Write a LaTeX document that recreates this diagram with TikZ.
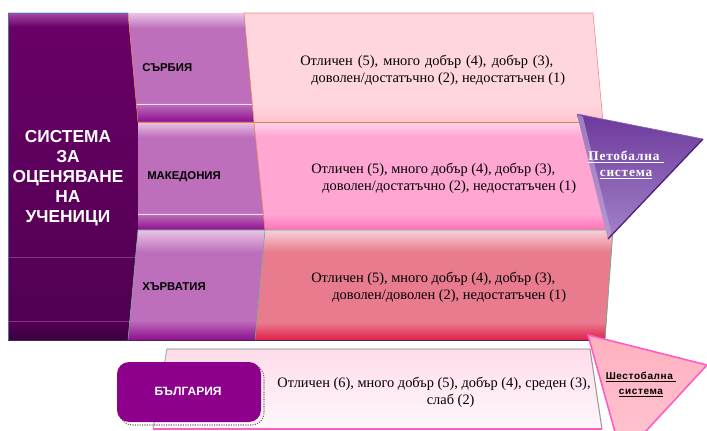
\documentclass[tikz,border=0pt]{standalone}
\usepackage{fontspec}
\setmainfont{Liberation Serif}
\newfontfamily\arial{Liberation Sans}
\newfontfamily\spacedserif[LetterSpace=6]{Liberation Serif}
\newfontfamily\spacedsans[LetterSpace=6]{Liberation Sans}
\definecolor{leftA}{HTML}{6A0068}
\definecolor{leftB}{HTML}{500050}
\definecolor{leftTop}{HTML}{A448A4}
\definecolor{leftBot}{HTML}{3A0040}
\definecolor{midp}{HTML}{BE6FBC}
\definecolor{midptop}{HTML}{E8C4E8}
\definecolor{midpbot}{HTML}{8E0E8E}
\definecolor{pinkA}{HTML}{FFD6DE}
\definecolor{pinkAbot}{HTML}{FFC4D0}
\definecolor{pinkB}{HTML}{FFA6D2}
\definecolor{pinkBtop}{HTML}{FFD4EA}
\definecolor{pinkBbot}{HTML}{FF70B8}
\definecolor{pinkC}{HTML}{E97B8E}
\definecolor{pinkCtop}{HTML}{F8D0D8}
\definecolor{pinkCbot}{HTML}{E0204A}
\definecolor{triP}{HTML}{6C3A9C}
\definecolor{triPlight}{HTML}{A482C8}
\definecolor{triPedge}{HTML}{4E2478}
\definecolor{triPink}{HTML}{FFB0BE}
\definecolor{triPinkB}{HTML}{FFC6D2}
\definecolor{triPinkEdge}{HTML}{FF5CC4}
\definecolor{bgbox}{HTML}{8C008C}
\definecolor{paleA}{HTML}{FFDCEA}
\definecolor{paleB}{HTML}{FFF7FB}
\definecolor{edgeOr}{HTML}{E08048}
\definecolor{edgeGr}{HTML}{60B088}
\definecolor{edgeBl}{HTML}{5070B0}
\definecolor{edgeRd}{HTML}{F08080}
\tikzset{
  gradetext/.style={font=\fontsize{10.8}{12.75}\selectfont, align=left, anchor=west, inner sep=0pt},
  countrytext/.style={font=\arial\bfseries\fontsize{8.5}{10}\selectfont, anchor=west, inner sep=0pt},
  titletext/.style={font=\arial\bfseries\fontsize{13}{15}\selectfont, align=center, text=white, inner sep=0pt},
}
\newcommand{\firstline}[1]{\makebox[#1][s]{Отличен (5), много добър (4), добър (3),}}
\begin{document}
\begin{tikzpicture}[x=0.75pt,y=-0.75pt]
\useasboundingbox (0,0) rectangle (707,431);
\fill[white] (0,0) rectangle (707,431);

% left dark box
\begin{scope}
\clip (8,13)--(128,13)--(138,122)--(138,230)--(128,340)--(8,340)--cycle;
\shade[top color=leftA, bottom color=leftB] (0,13) rectangle (150,340);
\shade[top color=leftTop, bottom color=leftA] (0,13) rectangle (150,27);
\shade[top color=leftB, bottom color=leftBot] (0,324) rectangle (150,340);
\draw[leftA!80!white, line width=0.4pt] (8,257)--(150,257) (8,321)--(150,321);
\end{scope}
\draw[edgeBl, line width=0.5pt] (128,13)--(8,13)--(8,340)--(128,340);

% Serbia purple
\begin{scope}
\clip (128,13)--(244,13)--(254,122)--(138,122)--cycle;
\fill[midp] (120,13) rectangle (260,122);
\shade[top color=midptop, bottom color=midp] (120,13) rectangle (260,28);
\shade[top color=midp, bottom color=midpbot] (120,104) rectangle (260,122);
\draw[white!80!midp, line width=0.6pt] (120,104)--(260,104);
\end{scope}
% Macedonia purple
\begin{scope}
\clip (138,122)--(254,122)--(265,230)--(138,230)--cycle;
\fill[midp] (130,122) rectangle (270,230);
\shade[top color=midptop, bottom color=midp] (130,122) rectangle (270,137);
\shade[top color=midp, bottom color=midpbot] (130,214) rectangle (270,230);
\draw[white!80!midp, line width=0.6pt] (130,214)--(270,214);
\end{scope}
% Croatia purple
\begin{scope}
\clip (138,230)--(265,230)--(255,340)--(128,340)--cycle;
\fill[midp] (120,230) rectangle (270,340);
\shade[top color=midptop, bottom color=midp] (120,230) rectangle (270,252);
\shade[top color=midp, bottom color=midpbot] (120,320) rectangle (270,340);
\end{scope}

% Serbia pink
\begin{scope}
\clip (244,13)--(593,13)--(603,122)--(254,122)--cycle;
\fill[pinkA] (240,13) rectangle (610,122);
\shade[top color=pinkA, bottom color=pinkAbot] (240,104) rectangle (610,122);
\end{scope}
\draw[edgeRd, line width=0.4pt] (244,13)--(593,13)--(603,122);
% Macedonia pink
\begin{scope}
\clip (254,122)--(603,122)--(613,230)--(265,230)--cycle;
\fill[pinkB] (250,122) rectangle (620,230);
\shade[top color=pinkBtop, bottom color=pinkB] (250,122) rectangle (620,137);
\shade[top color=pinkB, bottom color=pinkBbot] (250,214) rectangle (620,230);
\end{scope}
% Croatia pink
\begin{scope}
\clip (265,230)--(613,230)--(605,340)--(255,340)--cycle;
\fill[pinkC] (250,230) rectangle (620,340);
\shade[top color=pinkCtop, bottom color=pinkC] (250,230) rectangle (620,252);
\shade[top color=pinkC, bottom color=pinkCbot] (250,322) rectangle (620,340);
\end{scope}

% separating edges
\draw[edgeOr, line width=0.5pt] (138,122)--(603,122);
\draw[edgeOr, line width=0.4pt] (128,13)--(138,122) (244,13)--(254,122) (254,122)--(265,230);
\draw[edgeGr, line width=0.5pt] (138,230)--(613,230)--(605,340);
\draw[edgeGr, line width=0.4pt] (138,230)--(128,340) (265,230)--(255,340);
\draw[leftBot!70!gray, line width=0.6pt] (8,340)--(605,340);

% purple triangle
\shade[top color=triP, bottom color=triPlight] (577,114)--(703,139)--(608,239)--cycle;
\fill[triPlight!70!white, opacity=0.6] (577,114)--(583,117)--(611,232)--(608,239)--cycle;
\draw[triPedge, line width=1pt] (703,139)--(608,239);
\draw[triP!80!white, line width=0.5pt] (577,114)--(703,139);

% Bulgaria pale box
\shade[top color=paleA, bottom color=paleB] (167,349)--(590,349)--(602,429)--(153,429)--cycle;
\draw[gray!60, line width=0.8pt] (153,429)--(167,349)--(590,349);
\draw[gray!80, line width=0.8pt] (590,349)--(602,429);
\draw[triPinkEdge, line width=1pt] (153,429)--(602,429);

% pink triangle
\begin{scope}
\clip (0,0) rectangle (707,431);
\shade[top color=triPink, bottom color=triPinkB] (588,335)--(707,365)--(622,457)--cycle;
\draw[triPinkEdge, line width=1.2pt, line join=round] (622,457)--(588,335)--(707,365)--(622,457);
\end{scope}

% Bulgaria label box
\draw[black!60, densely dotted, line width=0.8pt, rounded corners=9] (120,365) rectangle (264,425);
\fill[bgbox, rounded corners=9] (117,362) rectangle (261,422);

% texts
\node[titletext] (title) at (68,178) {СИСТЕМА\\ЗА\\ОЦЕНЯВАНЕ\\НА\\УЧЕНИЦИ};
\node[countrytext] (srb) at (142,68) {СЪРБИЯ};
\node[countrytext] (mkd) at (147,177) {МАКЕДОНИЯ};
\node[countrytext] (hrv) at (142,287) {ХЪРВАТИЯ};
\node[countrytext, font=\arial\bfseries\fontsize{9}{10}\selectfont, text=white, anchor=center] (bgr) at (188,391) {БЪЛГАРИЯ};

\node[gradetext] (srbt) at (300,70.5) {\firstline{189.75pt}\\\hspace*{8.25pt}доволен/достатъчно (2), недостатъчен (1)};
\node[gradetext] (mkdt) at (311,178.5) {\firstline{183pt}\\\hspace*{8.25pt}доволен/достатъчно (2), недостатъчен (1)};
\node[gradetext] (hrvt) at (311,287.5) {\firstline{183pt}\\\hspace*{15.75pt}доволен/доволен (2), недостатъчен (1)};
\node[gradetext, align=center, anchor=center] (bgrt) at (434,392) {Отличен (6), много добър (5), добър (4), среден (3),\\\hspace*{25pt}слаб (2)};

\node[font=\spacedserif\bfseries\fontsize{10}{12}\selectfont, text=white, align=center, inner sep=0pt] (five) at (626,165) {\underline{Петобална\ }\\\underline{система}};
\node[font=\spacedsans\bfseries\fontsize{7.5}{11}\selectfont, text=black, align=center, inner sep=0pt] (six) at (641,384.5) {\underline{Шестобална\ }\\\underline{система}};
\end{tikzpicture}
\end{document}
